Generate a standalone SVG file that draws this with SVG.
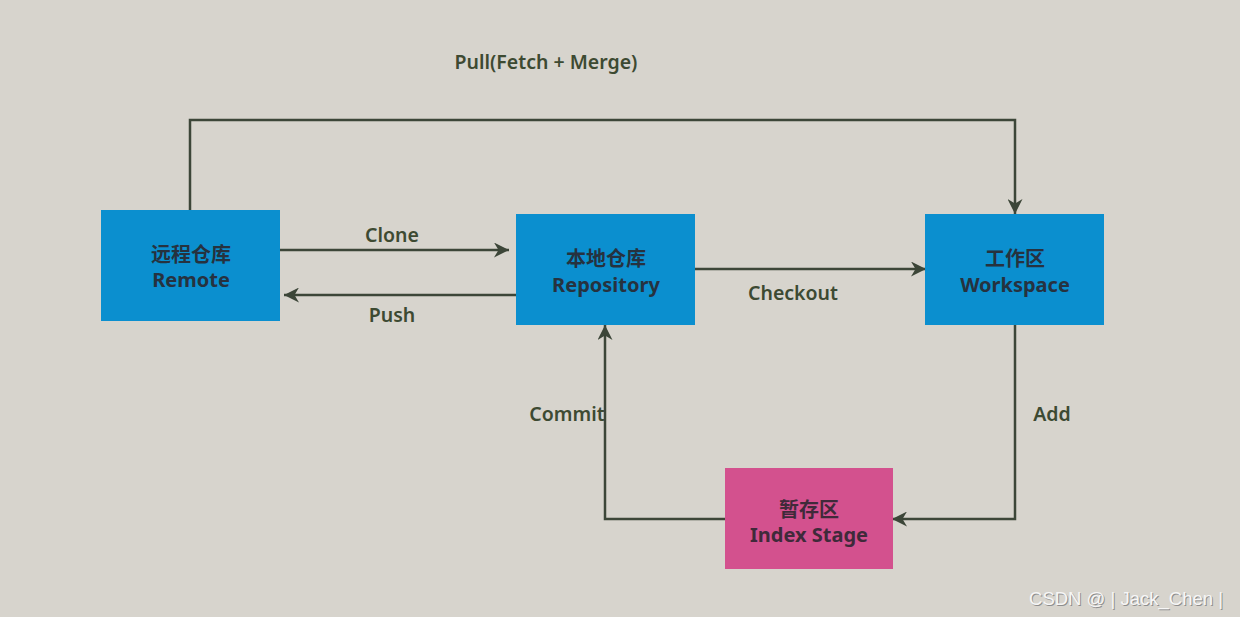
<svg xmlns="http://www.w3.org/2000/svg" width="1240" height="617" viewBox="0 0 1240 617">
<defs>
<marker id="arr" viewBox="0 0 10 10" refX="10" refY="5" markerWidth="21" markerHeight="15" markerUnits="userSpaceOnUse" orient="auto">
<path d="M0,0 L10,5 L0,10 L3,5 Z" fill="#3c4638"/>
</marker>
<style>
.box{stroke:none}
.blue{fill:#0b8fcf}
.pink{fill:#d3518e}
.nt{font-family:"Noto Sans","Noto Sans CJK SC",sans-serif;font-size:20px;font-weight:bold;fill:#26323f;text-anchor:middle}
.pt{fill:#3f2a3a}
.lbl{font-family:"Noto Sans",sans-serif;font-size:19.5px;font-weight:600;fill:#3d4a32;text-anchor:middle}
.ln{fill:none;stroke:#3c4638;stroke-width:2.5}
.wm{font-family:"Liberation Sans",sans-serif;font-size:18.5px;text-anchor:middle}
</style>
</defs>
<rect width="1240" height="617" fill="#d7d4cd"/>
<g id="connectors">
<path class="ln" d="M190,210 V120 H1015 V214" marker-end="url(#arr)"/>
<path class="ln" d="M280,250 H509" marker-end="url(#arr)"/>
<path class="ln" d="M516,295 H284" marker-end="url(#arr)"/>
<path class="ln" d="M695,269 H926" marker-end="url(#arr)"/>
<path class="ln" d="M1015,325 V519 H892" marker-end="url(#arr)"/>
<path class="ln" d="M725,519 H605 V325" marker-end="url(#arr)"/>
</g>
<g id="labels">
<text class="lbl" x="546" y="69">Pull(Fetch + Merge)</text>
<text class="lbl" x="392" y="242">Clone</text>
<text class="lbl" x="392" y="322">Push</text>
<text class="lbl" x="793" y="300">Checkout</text>
<text class="lbl" x="567" y="421">Commit</text>
<text class="lbl" x="1052" y="421">Add</text>
</g>
<g id="remote">
<rect class="box blue" x="101" y="210" width="179" height="111"/>
<text class="nt" x="191" y="262">远程仓库</text>
<text class="nt" x="191" y="287">Remote</text>
</g>
<g id="repository">
<rect class="box blue" x="516" y="214" width="179" height="111"/>
<text class="nt" x="606" y="266">本地仓库</text>
<text class="nt" x="606" y="292">Repository</text>
</g>
<g id="workspace">
<rect class="box blue" x="925" y="214" width="179" height="111"/>
<text class="nt" x="1015" y="266">工作区</text>
<text class="nt" x="1015" y="292">Workspace</text>
</g>
<g id="index">
<rect class="box pink" x="725" y="468" width="168" height="101"/>
<text class="nt pt" x="809" y="517">暂存区</text>
<text class="nt pt" x="809" y="542">Index Stage</text>
</g>
<g id="watermark">
<text class="wm" x="1127" y="606" fill="#8e8e8e">CSDN @ | Jack_Chen |</text>
<text class="wm" x="1126" y="605" fill="#f6f6f6">CSDN @ | Jack_Chen |</text>
</g>
</svg>
